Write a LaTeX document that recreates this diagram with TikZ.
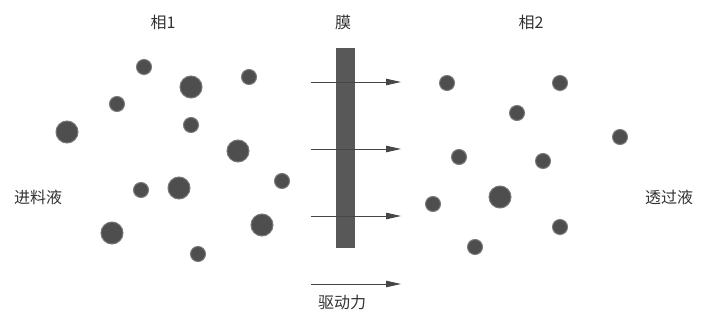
\documentclass[tikz,border=0pt]{standalone}
\usepackage{fontspec}
\newfontfamily\cjk{Noto Sans CJK SC}
\usetikzlibrary{arrows.meta}
\definecolor{dot}{RGB}{78,78,78}
\definecolor{dotedge}{RGB}{120,120,120}
\definecolor{memb}{RGB}{88,88,88}
\definecolor{arr}{RGB}{70,70,70}
\tikzset{
  small/.style={circle,minimum size=15pt,inner sep=0pt,fill=dot,draw=dotedge,line width=1pt},
  large/.style={circle,minimum size=22pt,inner sep=0pt,fill=dot,draw=dotedge,line width=1pt},
  lbl/.style={font=\cjk\fontsize{16}{18}\selectfont,text=black!80,inner sep=0pt},
  flow/.style={draw=arr,line width=0.9pt,-{Triangle[length=15pt,width=6.5pt]}}
}
\begin{document}
\begin{tikzpicture}[x=1pt,y=-1pt]
\useasboundingbox (0,0) rectangle (703,321);
% phase 1 particles
\node[small] (a1) at (144,67) {};
\node[large] (a2) at (191,87) {};
\node[small] (a3) at (249,77) {};
\node[small] (a4) at (117,104) {};
\node[large] (a5) at (67,132) {};
\node[small] (a6) at (191,125) {};
\node[large] (a7) at (238,151) {};
\node[small] (a8) at (282,181) {};
\node[small] (a9) at (141,190) {};
\node[large] (a10) at (179,188) {};
\node[large] (a11) at (112,233) {};
\node[large] (a12) at (262,225) {};
\node[small] (a13) at (198,254) {};
% phase 2 particles
\node[small] (b1) at (447,83) {};
\node[small] (b2) at (560,83) {};
\node[small] (b3) at (517,113) {};
\node[small] (b4) at (620,137) {};
\node[small] (b5) at (459,157) {};
\node[small] (b6) at (543,161) {};
\node[large] (b7) at (500,197) {};
\node[small] (b8) at (433,204) {};
\node[small] (b9) at (560,227) {};
\node[small] (b10) at (475,247) {};
% membrane
\node[fill=memb,draw=none,minimum width=19pt,minimum height=200pt,inner sep=0pt] (m) at (345.5,148) {};
% arrows
\coordinate (s1) at (311,82);  \coordinate (e1) at (401,82);
\coordinate (s2) at (311,149); \coordinate (e2) at (401,149);
\coordinate (s3) at (311,216); \coordinate (e3) at (401,216);
\coordinate (s4) at (311,284); \coordinate (e4) at (401,284);
\draw[flow] (s1) -- (e1);
\draw[flow] (s2) -- (e2);
\draw[flow] (s3) -- (e3);
\draw[flow] (s4) -- (e4);
% labels
\node[lbl] (t1) at (163,22) {相1};
\node[lbl] (t2) at (343,22) {膜};
\node[lbl] (t3) at (531,22) {相2};
\node[lbl] (t4) at (38,197) {进料液};
\node[lbl] (t5) at (669,197) {透过液};
\node[lbl] (t6) at (342,302) {驱动力};
\end{tikzpicture}
\end{document}
